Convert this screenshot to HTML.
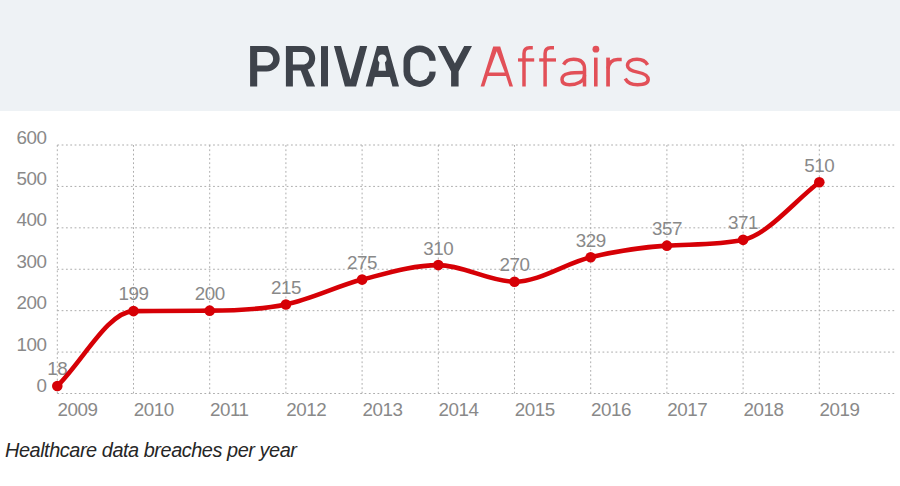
<!DOCTYPE html>
<html><head><meta charset="utf-8"><style>
html,body{margin:0;padding:0;width:900px;height:486px;overflow:hidden;background:#fff}
svg{position:absolute;left:0;top:0;display:block}
text{font-family:"Liberation Sans",sans-serif}
</style></head><body>
<svg width="900" height="486" viewBox="0 0 900 486">
<rect x="0" y="0" width="900" height="111" fill="#eef2f5"/>
<g><path fill="#3e434b" fill-rule="evenodd" d="M250.1,46 L266.5,46 C274,46 279.7,51.6 279.7,58.7 C279.7,65.8 274,71.4 266.5,71.4 L257.2,71.4 L257.2,86.4 L250.1,86.4 Z M257.2,51.9 L266,51.9 C270.2,51.9 273.1,54.8 273.1,58.7 C273.1,62.6 270.2,65.5 266,65.5 L257.2,65.5 Z"/><path fill="#3e434b" fill-rule="evenodd" d="M285.9,46 L303.5,46 C310,46 315.2,51.3 315.2,58.3 C315.2,65.3 310,70.6 303.5,70.6 L292.9,70.6 L292.9,86.4 L285.9,86.4 Z M292.9,51.9 L302.8,51.9 C306.5,51.9 309.1,54.6 309.1,58.2 C309.1,61.8 306.5,64.5 302.8,64.5 L292.9,64.5 Z"/><path fill="#3e434b" d="M299.1,66 L306.2,66 L315.1,86.4 L306.7,86.4 Z"/><rect x="321" y="46.1" width="7" height="40.3" fill="#3e434b"/><path fill="#3e434b" d="M333.9,46.1 L341,46.1 L350.5,79.6 L360,46.1 L367.2,46.1 L356.1,86.4 L344.9,86.4 Z"/><path fill="#3e434b" d="M377,46.1 L387.7,46.1 L399,86.4 L392.4,86.4 L389.9,77 L374.8,77 L372.4,86.4 L365.7,86.4 Z"/><circle cx="382.2" cy="58.9" r="4.4" fill="#eef2f5"/><path fill="#eef2f5" d="M379.6,61.5 L384.8,61.5 L386,70.8 L378.4,70.8 Z"/><rect x="403.5" y="45.4" width="32.2" height="41.5" rx="16.1" ry="15.5" fill="#3e434b"/><rect x="410.2" y="51.9" width="19.3" height="29.1" rx="9.65" ry="9.2" fill="#eef2f5"/><rect x="425" y="60.8" width="12" height="10.8" fill="#eef2f5"/><path fill="#3e434b" d="M437.8,46.1 L445.6,46.1 L454.9,63.6 L464.2,46.1 L472,46.1 L458.6,71.5 L458.6,86.4 L451.1,86.4 L451.1,71.5 Z"/><path fill="#e25058" fill-rule="evenodd" d="M480.6,86.6 L493.2,46.6 L500.2,46.6 L513,86.6 L509.4,86.6 L506,75.9 L487.7,75.9 L484.3,86.6 Z M488.9,72.4 L504.8,72.4 L496.7,51.2 Z"/><path fill="none" stroke="#e25058" stroke-width="3.5" d="M524.0,86.5 L524.0,53.5 Q524.0,47.75 529.5,47.75 L532.8,47.75"/><rect x="518" y="58.3" width="16.2" height="3.3" fill="#e25058"/><path fill="none" stroke="#e25058" stroke-width="3.5" d="M545.1,86.5 L545.1,53.5 Q545.1,47.75 550.6,47.75 L554,47.75"/><rect x="539.2" y="58.3" width="16.8" height="3.3" fill="#e25058"/><path fill="none" stroke="#e25058" stroke-width="3.5" d="M563.6,64.6 C565.5,60.8 569,59.25 573.5,59.25 C580.5,59.25 584.5,62.5 584.5,69 L584.5,86.5"/><path fill="none" stroke="#e25058" stroke-width="3.5" d="M584.5,72.6 C579,72.6 572,72.8 568,73.6 C563.6,74.5 562,77 562,79.6 C562,83 565,84.75 569.5,84.75 C577,84.75 584.5,81.5 584.5,75"/><rect x="594" y="57.6" width="3.6" height="28.9" fill="#e25058"/><circle cx="595.9" cy="49.2" r="3.4" fill="#e25058"/><rect x="606.2" y="57.6" width="3.7" height="28.9" fill="#e25058"/><path fill="none" stroke="#e25058" stroke-width="3.5" d="M608.1,68.5 C609,62 612.5,59.4 617.5,59.4 L621.7,59.4"/><path fill="none" stroke="#e25058" stroke-width="3.5" d="M647.6,64.8 C645.5,61 642,59.25 637,59.25 C631,59.25 627.5,61.8 627.5,65.6 C627.5,69.6 631.5,71 637.5,72.1 C644.5,73.4 648.2,75.2 648.2,79.6 C648.2,83.3 644.5,84.75 637.5,84.75 C631.5,84.75 627.5,82.8 625.2,78.6"/></g>
<g stroke="#adadad" stroke-width="1" stroke-dasharray="1.8 2.527" fill="none"><line x1="57.3" y1="145.00" x2="895" y2="145.00"/><line x1="57.3" y1="186.42" x2="895" y2="186.42"/><line x1="57.3" y1="227.83" x2="895" y2="227.83"/><line x1="57.3" y1="269.25" x2="895" y2="269.25"/><line x1="57.3" y1="310.67" x2="895" y2="310.67"/><line x1="57.3" y1="352.08" x2="895" y2="352.08"/><line x1="57.3" y1="393.50" x2="895" y2="393.50"/><line x1="57.30" y1="145.0" x2="57.30" y2="393.5"/><line x1="133.50" y1="145.0" x2="133.50" y2="393.5"/><line x1="209.70" y1="145.0" x2="209.70" y2="393.5"/><line x1="285.90" y1="145.0" x2="285.90" y2="393.5"/><line x1="362.10" y1="145.0" x2="362.10" y2="393.5"/><line x1="438.30" y1="145.0" x2="438.30" y2="393.5"/><line x1="514.50" y1="145.0" x2="514.50" y2="393.5"/><line x1="590.70" y1="145.0" x2="590.70" y2="393.5"/><line x1="666.90" y1="145.0" x2="666.90" y2="393.5"/><line x1="743.10" y1="145.0" x2="743.10" y2="393.5"/><line x1="819.30" y1="145.0" x2="819.30" y2="393.5"/></g>
<g font-size="18.8" fill="#898989" letter-spacing="-0.45"><text x="46.5" y="143.60" text-anchor="end">600</text><text x="46.5" y="185.02" text-anchor="end">500</text><text x="46.5" y="226.43" text-anchor="end">400</text><text x="46.5" y="267.85" text-anchor="end">300</text><text x="46.5" y="309.27" text-anchor="end">200</text><text x="46.5" y="350.68" text-anchor="end">100</text><text x="46.5" y="392.10" text-anchor="end">0</text><text x="57.60" y="416.0">2009</text><text x="133.80" y="416.0">2010</text><text x="210.00" y="416.0">2011</text><text x="286.20" y="416.0">2012</text><text x="362.40" y="416.0">2013</text><text x="438.60" y="416.0">2014</text><text x="514.80" y="416.0">2015</text><text x="591.00" y="416.0">2016</text><text x="667.20" y="416.0">2017</text><text x="743.40" y="416.0">2018</text><text x="819.60" y="416.0">2019</text><text x="57.30" y="375.44" text-anchor="middle">18</text><text x="133.50" y="300.48" text-anchor="middle">199</text><text x="209.70" y="300.07" text-anchor="middle">200</text><text x="285.90" y="293.85" text-anchor="middle">215</text><text x="362.10" y="269.00" text-anchor="middle">275</text><text x="438.30" y="254.51" text-anchor="middle">310</text><text x="514.50" y="271.07" text-anchor="middle">270</text><text x="590.70" y="246.64" text-anchor="middle">329</text><text x="666.90" y="235.04" text-anchor="middle">357</text><text x="743.10" y="229.24" text-anchor="middle">371</text><text x="819.30" y="171.68" text-anchor="middle">510</text></g>
<path d="M57.30,386.05 C82.70,361.06 108.10,311.49 133.50,311.08 C158.90,310.67 184.30,310.70 209.70,310.67 C235.10,310.63 260.50,309.63 285.90,304.45 C311.30,299.28 336.70,286.16 362.10,279.60 C387.50,273.05 412.90,265.11 438.30,265.11 C463.70,265.11 489.10,281.68 514.50,281.68 C539.90,281.68 565.30,263.24 590.70,257.24 C616.10,251.23 641.50,247.18 666.90,245.64 C692.30,244.11 717.70,245.44 743.10,239.84 C768.50,234.25 793.90,201.46 819.30,182.28" fill="none" stroke="#d60006" stroke-width="4.6" stroke-linecap="round" stroke-linejoin="round"/>
<g fill="#d60006"><circle cx="57.30" cy="386.05" r="5.3"/><circle cx="133.50" cy="311.08" r="5.3"/><circle cx="209.70" cy="310.67" r="5.3"/><circle cx="285.90" cy="304.45" r="5.3"/><circle cx="362.10" cy="279.60" r="5.3"/><circle cx="438.30" cy="265.11" r="5.3"/><circle cx="514.50" cy="281.68" r="5.3"/><circle cx="590.70" cy="257.24" r="5.3"/><circle cx="666.90" cy="245.64" r="5.3"/><circle cx="743.10" cy="239.84" r="5.3"/><circle cx="819.30" cy="182.28" r="5.3"/></g>
<text x="5" y="456.7" font-size="19.9" font-style="italic" fill="#262626" letter-spacing="-0.45">Healthcare data breaches per year</text>
</svg>
</body></html>
